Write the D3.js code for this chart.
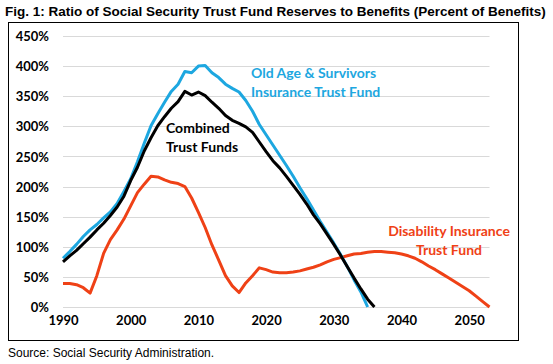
<!DOCTYPE html>
<html><head><meta charset="utf-8">
<script src="https://cdn.jsdelivr.net/npm/d3@7"></script>
<style>
html,body{margin:0;padding:0;background:#fff;}
svg{display:block;}
</style></head>
<body>
<script>
const title = "Fig. 1: Ratio of Social Security Trust Fund Reserves to Benefits (Percent of Benefits)";
const source = "Source: Social Security Administration.";

const oasiYears = d3.range(1990, 2036);
const oasiValues = [81,92,104,117,128,137,148,158,172,192,213,241,272,301,321,340,358,370,391,389,400,401,389,381,370,363,357,343,325,303,286,269,252,235,217,198,180,161,142,124,106,87,67,45,25,0];

const combYears = d3.range(1990, 2037);
const combValues = [75,85,94,105,116,128,139,152,166,184,210,232,259,281,301,316,330,341,358,352,357,351,340,330,318,310,305,299,290,274,258,243,231,217,202,187,171,153,138,121,104,86,67,48,30,13,0];

const diYears = d3.range(1990, 2054);
const diValues = [39,39,37,32,23,52,89,112,128,146,168,190,204,217,216,211,207,205,200,181,157,132,103,78,52,35,24,40,52,65,62,58,57,57,58,60,63,66,70,75,79,82,85,88,89,91,92,92,91,90,88,85,81,75,68,62,55,48,41,34,27,18,9,0];

const yTicks = [0,50,100,150,200,250,300,350,400,450];
const xTicks = [1990,2000,2010,2020,2030,2040,2050];

const W = 553, H = 364;
const svg = d3.select("body").append("svg").attr("width", W).attr("height", H);

const x = d3.scaleLinear().domain([1990, 2053]).range([63, 489.5]);
const y = d3.scaleLinear().domain([0, 450]).range([307, 36]);

const tickFont = "Lato, 'Open Sans', sans-serif";

// title
svg.append("text").attr("x", 5).attr("y", 16)
  .attr("font-family", "'Liberation Sans', Arial, sans-serif")
  .attr("font-weight", "bold").attr("font-size", 13.5).attr("fill", "#000")
  .text(title);

// frame
svg.append("rect").attr("x", 8.5).attr("y", 22.5).attr("width", 510).attr("height", 318)
  .attr("fill", "none").attr("stroke", "#000").attr("stroke-width", 1);

// gridlines
svg.append("g").selectAll("line").data(yTicks).join("line")
  .attr("x1", x(1990)).attr("x2", x(2053))
  .attr("y1", d => Math.round(y(d)) + 0.5).attr("y2", d => Math.round(y(d)) + 0.5)
  .attr("stroke", "#d9d9d9").attr("stroke-width", 1);

// y axis
const yAxis = d3.axisLeft(y).tickValues(yTicks).tickFormat(d => d + "%").tickSize(0).tickPadding(0);
const gy = svg.append("g").attr("transform", "translate(49,0)").call(yAxis);
gy.select(".domain").remove();
gy.selectAll("text").attr("font-family", tickFont).attr("font-weight", "bold")
  .attr("font-size", 13).attr("fill", "#000").attr("dy", "0.35em");

// x axis
const xAxis = d3.axisBottom(x).tickValues(xTicks).tickFormat(d3.format("d")).tickSize(0).tickPadding(0);
const gx = svg.append("g").attr("transform", "translate(0,316)").call(xAxis);
gx.select(".domain").remove();
gx.selectAll("text").attr("font-family", tickFont).attr("font-weight", "bold")
  .attr("font-size", 13).attr("fill", "#000").attr("dy", "0.71em");

const line = d3.line().x(d => x(d[0])).y(d => y(d[1])).curve(d3.curveLinear);

const blue = "#1da7e0", red = "#ef4116", black = "#000";

svg.append("path").datum(diYears.map((yr, i) => [yr, diValues[i]]))
  .attr("d", line).attr("fill", "none").attr("stroke", red).attr("stroke-width", 3)
  .attr("stroke-linejoin", "round");
svg.append("path").datum(oasiYears.map((yr, i) => [yr, oasiValues[i]]))
  .attr("d", line).attr("fill", "none").attr("stroke", blue).attr("stroke-width", 3)
  .attr("stroke-linejoin", "round");
svg.append("path").datum(combYears.map((yr, i) => [yr, combValues[i]]))
  .attr("d", line).attr("fill", "none").attr("stroke", black).attr("stroke-width", 3)
  .attr("stroke-linejoin", "round");

// labels
function label(lines, xPos, yPos, color, anchor) {
  const t = svg.append("text").attr("font-family", tickFont).attr("font-weight", "bold")
    .attr("font-size", 14).attr("fill", color).attr("text-anchor", anchor);
  lines.forEach((s, i) => t.append("tspan").attr("x", xPos).attr("y", yPos + i * 18.5).text(s));
}
label(["Old Age & Survivors", "Insurance Trust Fund"], 251, 78, blue, "start");
label(["Combined", "Trust Funds"], 166, 133, black, "start");
label(["Disability Insurance", "Trust Fund"], 449, 236, red, "middle");

// source
svg.append("text").attr("x", 8).attr("y", 357)
  .attr("font-family", "'Liberation Sans', Arial, sans-serif")
  .attr("font-size", 12).attr("fill", "#000").text(source);
</script>
</body></html>
